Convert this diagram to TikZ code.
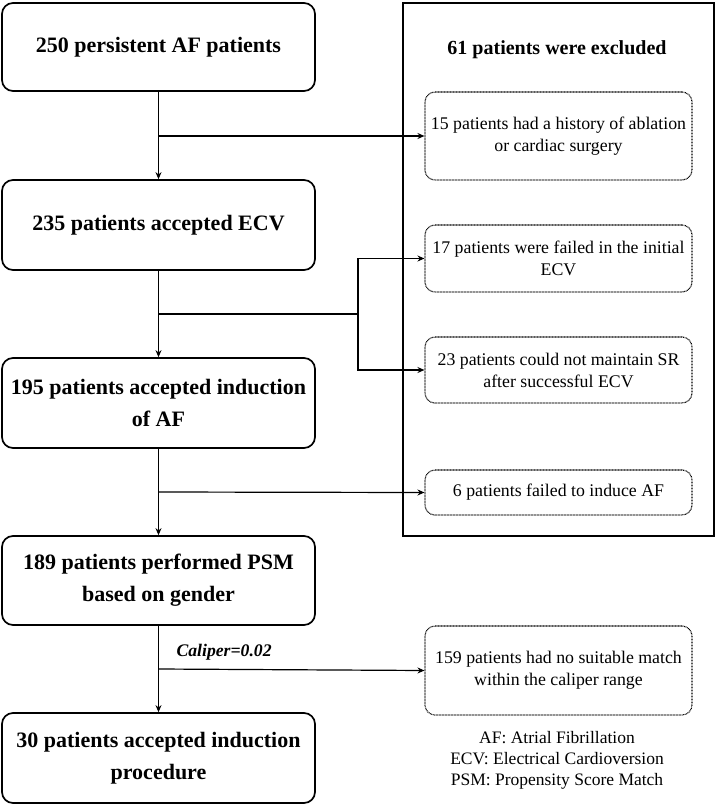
\documentclass[tikz,border=0pt]{standalone}
\usepackage{fontspec}
\setmainfont{Liberation Serif}
\usetikzlibrary{arrows.meta}
\tikzset{
  mainbox/.style={draw, line width=1.7pt, rounded corners=11pt, minimum width=313pt, align=center, font=\fontsize{22}{32}\selectfont\bfseries, inner sep=0pt},
  exbox/.style={draw, dash pattern=on 0.8pt off 0.7pt, line width=1.1pt, rounded corners=10pt, minimum width=267pt, align=center, font=\fontsize{17.8}{22}\selectfont, inner sep=0pt},
  conn/.style={line width=1.2pt},
  arr/.style={line width=1.2pt, -{Stealth[length=7pt,width=6pt]}}
}
\begin{document}
\begin{tikzpicture}[x=1pt,y=-1pt]
\useasboundingbox (0,0) rectangle (716,806);
% main column
\node[mainbox, minimum height=88pt] (b1) at (158.5,47) {250 persistent AF patients};
\node[mainbox, minimum height=90pt] (b2) at (158.5,225) {235 patients accepted ECV};
\node[mainbox, minimum height=90pt] (b3) at (158.5,403) {195 patients accepted induction\\of AF};
\node[mainbox, minimum height=89pt] (b4) at (158.5,580.5) {189 patients performed PSM\\based on gender};
\node[mainbox, minimum height=90pt] (b5) at (158.5,758) {30 patients accepted induction\\procedure};
% exclusion panel
\node[draw, line width=1.6pt, minimum width=311pt, minimum height=533pt, inner sep=0pt] (panel) at (558.5,269.5) {};
\node[font=\fontsize{20}{24}\selectfont\bfseries] (title) at (557,50) {61 patients were excluded};
\node[exbox, minimum height=88pt] (dA) at (558.5,136) {15 patients had a history of ablation\\or cardiac surgery};
\node[exbox, minimum height=67pt] (dB) at (558.5,258.5) {17 patients were failed in the initial\\ECV};
\node[exbox, minimum height=66pt] (dC) at (558.5,370) {23 patients could not maintain SR\\after successful ECV};
\node[exbox, minimum height=45pt] (dD) at (558.5,492.5) {6 patients failed to induce AF};
\node[exbox, minimum height=89pt] (dE) at (558.5,670.5) {159 patients had no suitable match\\within the caliper range};
\node[align=center, font=\fontsize{17.5}{21}\selectfont] (legend) at (557,760) {AF: Atrial Fibrillation\\ECV: Electrical Cardioversion\\PSM: Propensity Score Match};
\node[anchor=west, font=\fontsize{17.7}{20}\selectfont\bfseries\itshape] (cal) at (173,652) {Caliper=0.02};
% connectors
\coordinate (j1) at (158.5,136);
\coordinate (j2) at (158.5,314);
\coordinate (k2) at (358,314);
\coordinate (j3) at (158.5,492);
\coordinate (j4) at (158.5,669);
\draw[arr] (b1) -- (b2);
\draw[arr] (j1) -- (dA.west);
\draw[arr] (b2) -- (b3);
\draw[conn] (j2) -- (k2);
\draw[arr] (k2) |- (dB.west);
\draw[arr] (k2) |- (dC.west);
\draw[arr] (b3) -- (b4);
\draw[arr] (j3) -- (dD.west);
\draw[arr] (b4) -- (b5);
\draw[arr] (j4) -- (dE.west);
\end{tikzpicture}
\end{document}
